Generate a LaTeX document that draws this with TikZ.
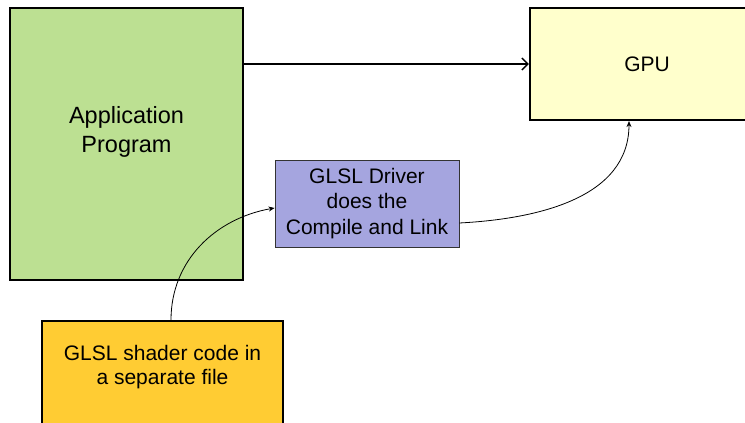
\documentclass[tikz,border=0pt]{standalone}
\usepackage{fontspec}
\setmainfont{Liberation Sans}
\usepackage{tikz}
\usetikzlibrary{arrows.meta,calc}

\definecolor{appgreen}{RGB}{188,224,146}
\definecolor{gpuyellow}{RGB}{255,255,204}
\definecolor{drvblue}{RGB}{165,165,223}
\definecolor{shaderorange}{RGB}{255,204,51}

\begin{document}
\begin{tikzpicture}[x=1pt,y=1pt,
      bigbox/.style={
        rectangle,
        draw=black,
        line width=2.2pt,
        inner sep=0pt
      },
      boxtext/.style={
        align=center,
        inner sep=0pt,
        font=\fontsize{21}{24.5}\selectfont
      },
      drvbox/.style={
        rectangle,
        draw=black!80,
        line width=0.9pt,
        fill=drvblue,
        align=center,
        inner sep=0pt,
        font=\fontsize{21}{25.5}\selectfont
      },
      thin arrow/.style={
        -{Stealth[length=6pt,width=5pt]},
        line width=0.8pt
      },
      >={Straight Barb[length=6pt,width=12pt]}
    ]
    \clip (0,0) rectangle (745,423);
    \fill[white] (0,0) rectangle (745,423);
    \node[bigbox,fill=appgreen,minimum width=233,minimum height=272] at (126.5,279) (app) {};
    \node[boxtext,font=\fontsize{23.5}{29}\selectfont] at ($(app)+(0,12)$) (apptext) {Application\\Program};
    \node[bigbox,fill=gpuyellow,minimum width=234,minimum height=112,font=\fontsize{21}{24.5}\selectfont] at (647,359) (gpu) {\raisebox{-3pt}{GPU}};
    \node[drvbox,minimum width=184,minimum height=87] at (367,219.5) (driver) {GLSL Driver\\does the\\Compile and Link};
    \node[bigbox,fill=shaderorange,minimum width=241,minimum height=150,anchor=north] at (162.5,103) (shader) {};
    \node[boxtext,anchor=north] at ($(shader.north)+(0,-25)$) (shadertext) {GLSL shader code in\\a separate file};
    \draw[->,line width=1.4pt] (app.east |- gpu.west) -- (gpu.west);
    \draw[thin arrow] ([xshift=8.5pt]shader.north) to[out=90,in=190] ([yshift=-4.5pt]driver.west);
    \draw[thin arrow] ([yshift=-19.5pt]driver.east) to[out=3,in=-90] ([xshift=-18pt]gpu.south);
  \end{tikzpicture}
\end{document}
